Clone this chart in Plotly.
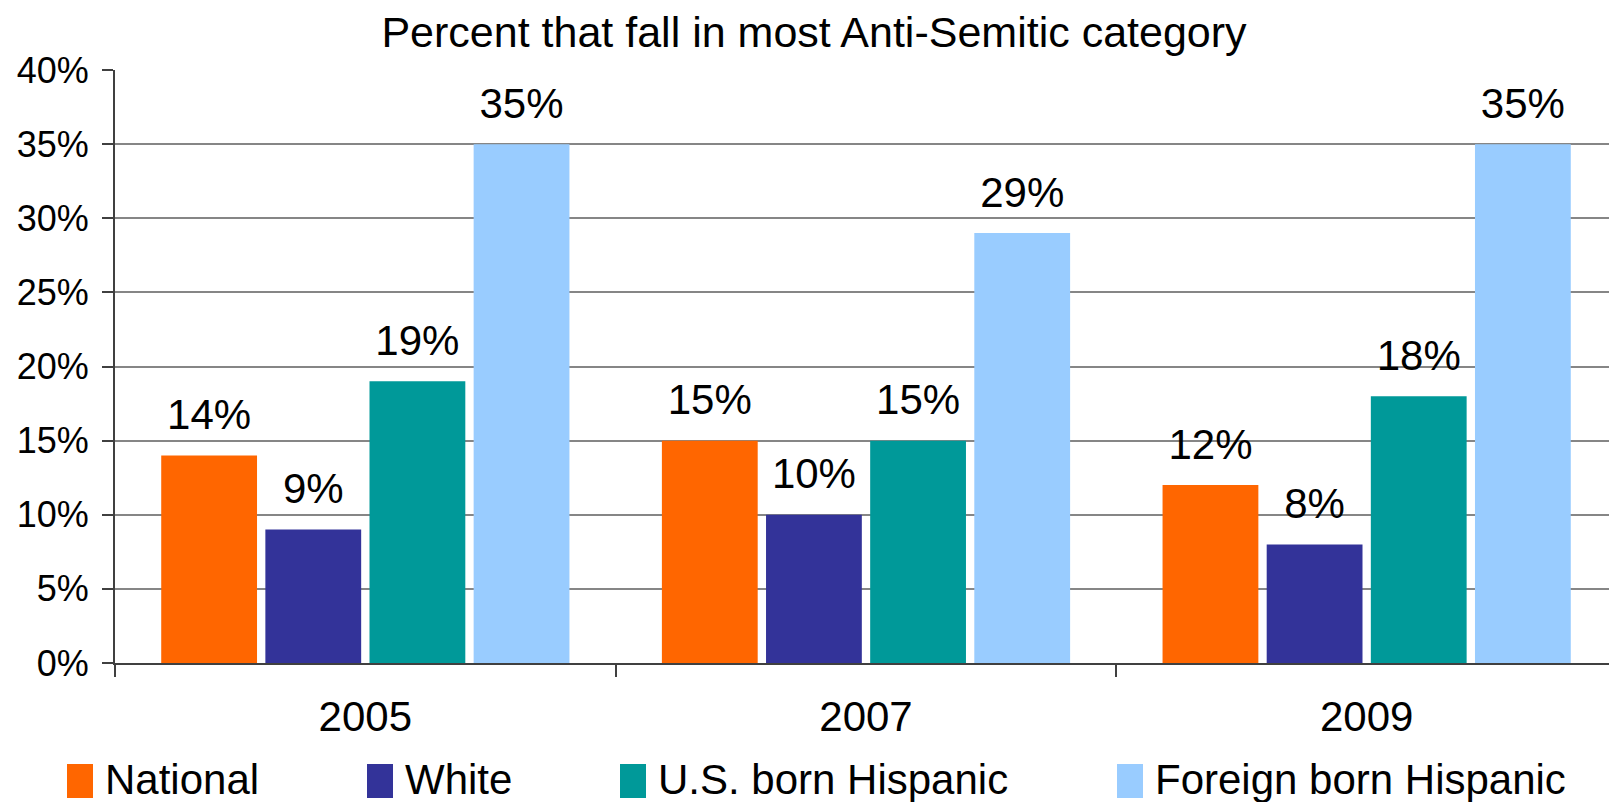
import plotly.graph_objects as go

years = ["2005", "2007", "2009"]
series_names = ["National", "White", "U.S. born Hispanic", "Foreign born Hispanic"]
national = [14, 15, 12]
white = [9, 10, 8]
us_born_hispanic = [19, 15, 18]
foreign_born_hispanic = [35, 29, 35]
y_ticks = [0, 5, 10, 15, 20, 25, 30, 35, 40]

colors = ["#FF6600", "#333399", "#009999", "#99CCFF"]
FONT = "Liberation Sans, Arial, sans-serif"

# page body adds an 8px margin, so the figure is 8px smaller than the window
W, H = 1609, 794
L, R, T, B = 107, 0, 62, 139
PW, PH = W - L - R, H - T - B

fig = go.Figure()
all_series = [national, white, us_born_hispanic, foreign_born_hispanic]
for name, vals, color in zip(series_names, all_series, colors):
    fig.add_trace(go.Bar(
        x=years, y=vals, name=name,
        marker=dict(color=color, line=dict(width=0)),
        showlegend=False, hoverinfo="skip",
    ))
# value labels, grouped like the bars (scattermode="group")
for name, vals in zip(series_names, all_series):
    fig.add_trace(go.Scatter(
        x=years, y=vals, name=name + " label",
        mode="markers+text",
        marker=dict(size=24, opacity=0),
        text=[f"{v}%" for v in vals],
        textposition="top center",
        textfont=dict(size=42, color="black", family=FONT),
        cliponaxis=False, showlegend=False,
    ))

# legend drawn by hand so the swatches match the reference size
legend_swatch_x = [59, 359, 612, 1109]
for name, color, sx in zip(series_names, colors, legend_swatch_x):
    fig.add_shape(type="rect", xref="paper", yref="paper",
                  x0=(sx - L) / PW, x1=(sx + 26 - L) / PW,
                  y0=(H - B - 790) / PH, y1=(H - B - 756) / PH,
                  fillcolor=color, line=dict(width=0))
    fig.add_annotation(text=name, xref="paper", yref="paper",
                       x=(sx + 36 - L) / PW, y=(H - B - 771) / PH,
                       xanchor="left", yanchor="middle", showarrow=False,
                       font=dict(size=42, color="black", family=FONT))

fig.update_layout(
    width=W, height=H,
    margin=dict(l=L, r=R, t=T, b=B, pad=0),
    paper_bgcolor="white", plot_bgcolor="white",
    barmode="group", bargap=0.168, bargroupgap=0.08,
    scattermode="group", scattergap=0.168,
    font=dict(family=FONT, color="black", size=36),
    title=dict(text="Percent that fall in most Anti-Semitic category",
               x=806 / W, xanchor="center", y=1 - 24 / H, yanchor="middle",
               font=dict(size=43, color="black", family=FONT)),
)
fig.update_xaxes(
    type="category", showline=True, linecolor="#404040", linewidth=2,
    ticks="outside", tickson="boundaries", ticklen=12, tickcolor="#404040", tickwidth=2,
    tickfont=dict(size=42), ticklabelstandoff=16, showgrid=False,
)
fig.update_yaxes(
    range=[0, 40], tickvals=y_ticks, ticktext=[f"{v}%" for v in y_ticks],
    showline=True, linecolor="#404040", linewidth=2,
    ticks="outside", ticklen=11, tickcolor="#404040", tickwidth=2,
    tickfont=dict(size=36), ticklabelstandoff=6,
    showgrid=True, gridcolor="#868686", gridwidth=2, zeroline=False,
)

fig.write_html("out.html")
